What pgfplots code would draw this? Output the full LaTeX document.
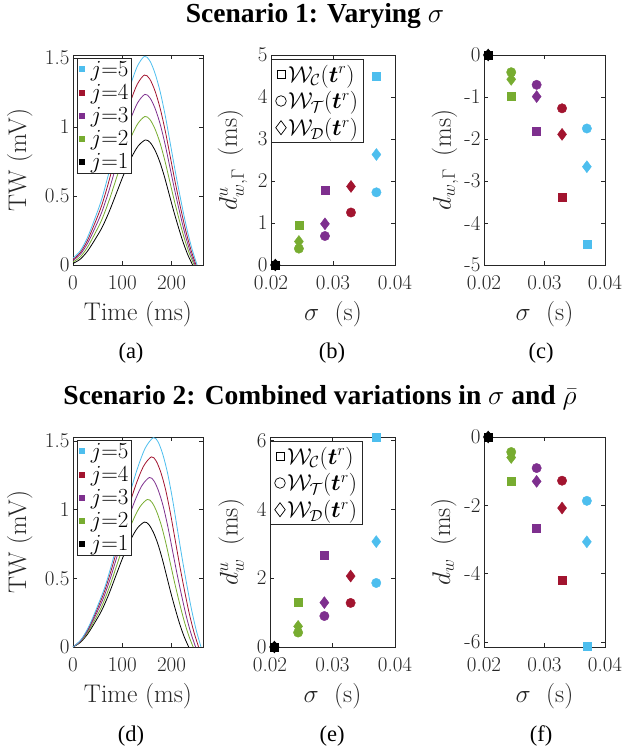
\RequirePackage{fix-cm}
\documentclass[border=0pt]{standalone}
\usepackage{amsmath}
\usepackage{fontspec}
\newfontfamily\timesfont{Liberation Serif}
\usepackage{pgfplots}
\pgfplotsset{compat=1.18}

\definecolor{mcyan}{rgb}{0.301,0.745,0.933}
\definecolor{mred}{rgb}{0.635,0.078,0.184}
\definecolor{mpurple}{rgb}{0.494,0.184,0.556}
\definecolor{mgreen}{rgb}{0.466,0.674,0.188}
\definecolor{axgray}{rgb}{0.15,0.15,0.15}

\pgfplotsset{
  panel/.style={
    scale only axis, width=#1, height=210pt, anchor=south west,
    axis line style={axgray, line width=0.7pt},
    every tick/.style={axgray, line width=0.5pt},
    major tick length=4pt,
    scaled x ticks=false, scaled y ticks=false,
    tick label style={font=\fontsize{21}{24}\selectfont, text=axgray},
    label style={font=\fontsize{25.5}{28}\selectfont, text=axgray},
    xticklabel style={anchor=base, yshift=-25pt},
    xlabel style={at={(axis description cs:0.5,0)}, anchor=base, yshift=-56pt},
    clip=false,
  },
  twpanel/.style={
    panel=130pt, xmin=0, xmax=264, xtick={0,100,200},
    ytick={0,0.5,1,1.5}, yticklabels={0,0.5,1,1.5},
    xlabel={Time (ms)}, ylabel={TW (mV)},
    ylabel style={at={(axis description cs:-0.36,0.5)}, anchor=base},
    legend style={at={(axis description cs:0.028,0.986)}, anchor=north west,
      draw=axgray, fill=white, font=\fontsize{23}{24}\selectfont,
      inner sep=1.5pt, row sep=3.5pt, nodes={inner sep=1.5pt}, cells={anchor=west}},
    legend image code/.code={\fill[##1, draw=none] (1pt,-3pt) rectangle (7pt,3pt); \path[draw=none, fill=none] (0pt,0pt) -- (11pt,0pt);},
  },
  sigpanel/.style={
    xmin=0.02, xmax=0.04, xtick={0.02,0.03,0.04}, xticklabels={0.02,0.03,0.04},
    xlabel={$\sigma$\hspace{0.6em}(s)},
  },
  wlegend/.style={
    legend style={at={(axis description cs:0,0.98)}, anchor=north west,
      draw=axgray, fill=white, font=\fontsize{23}{25}\selectfont,
      inner sep=4.5pt, row sep=6pt, nodes={inner sep=1pt}, cells={anchor=west}},
    legend image code/.code={\draw[##1] plot coordinates {(4pt,0pt)}; \path[draw=none, fill=none] (0pt,0pt) -- (10pt,0pt);},
  },
  tw/.style={#1, line width=0.8pt, smooth, forget plot},
  sc/.style={scatter, only marks, forget plot, scatter src=explicit symbolic,
    scatter/classes={a={black}, b={mgreen}, c={mpurple}, d={mred}, e={mcyan}}},
  sq/.style={sc, mark=square*, mark size=4pt},
  ci/.style={sc, mark=*, mark size=4.7pt},
  di/.style={sc, mark=diamond*, mark size=6pt},
}

\begin{document}
\begin{tikzpicture}
\path[use as bounding box] (0pt,0pt) rectangle (624pt,749pt);

% titles and subcaptions
\node[font=\timesfont\bfseries\fontsize{27.5}{30}\selectfont, anchor=base] at (315pt,726pt) {Scenario 1: Varying $\sigma$};
\node[font=\timesfont\bfseries\fontsize{27.5}{30}\selectfont, anchor=base] at (320pt,344pt) {Scenario 2: Combined variations in $\sigma$ and $\bar{\rho}$};
\foreach \lab/\xx/\yy in {(a)/131/390,(b)/332/390,(c)/541/390,(d)/131/8,(e)/332/8,(f)/541/8}
  \node[font=\timesfont\fontsize{22.5}{26}\selectfont, anchor=base] at (\xx pt,\yy pt) {\lab};

% (a)
\begin{axis}[twpanel, at={(73pt,484pt)}, ymin=0, ymax=1.52]
\addplot[tw=black] coordinates {(0,0.011)(14.7,0.042)(29.4,0.100)(44.1,0.181)(58.8,0.270)(73.5,0.386)(88.2,0.520)(102.9,0.654)(117.6,0.771)(132.3,0.861)(147,0.905)(156.6,0.887)(166.2,0.833)(175.8,0.751)(185.4,0.643)(195,0.516)(204.6,0.389)(214.2,0.272)(223.8,0.163)(233.4,0.072)(243,0)};
\addplot[tw=mgreen] coordinates {(0,0.022)(14.6,0.058)(29.2,0.127)(43.8,0.222)(58.4,0.327)(73,0.464)(87.6,0.622)(102.2,0.780)(116.8,0.917)(131.4,1.022)(146,1.075)(156,1.054)(166,0.989)(176,0.892)(186,0.763)(196,0.613)(206,0.462)(216,0.323)(226,0.194)(236,0.086)(246,0)};
\addplot[tw=mpurple] coordinates {(0,0.033)(14.6,0.076)(29.2,0.154)(43.8,0.262)(58.4,0.382)(73,0.538)(87.6,0.718)(102.2,0.899)(116.8,1.055)(131.4,1.175)(146,1.235)(156.2,1.210)(166.4,1.136)(176.6,1.025)(186.8,0.877)(197,0.704)(207.2,0.531)(217.4,0.371)(227.6,0.222)(237.8,0.099)(248,0)};
\addplot[tw=mred] coordinates {(0,0.041)(14.5,0.088)(29,0.175)(43.5,0.295)(58,0.428)(72.5,0.601)(87,0.802)(101.5,1.002)(116,1.175)(130.5,1.308)(145,1.375)(155.5,1.348)(166,1.265)(176.5,1.141)(187,0.976)(197.5,0.784)(208,0.591)(218.5,0.413)(229,0.248)(239.5,0.110)(250,0)};
\addplot[tw=mcyan] coordinates {(0,0.050)(14.5,0.101)(29,0.196)(43.5,0.327)(58,0.473)(72.5,0.663)(87,0.882)(101.5,1.101)(116,1.291)(130.5,1.437)(145,1.510)(155.7,1.480)(166.4,1.389)(177.1,1.253)(187.8,1.072)(198.5,0.861)(209.2,0.649)(219.9,0.453)(230.6,0.272)(241.3,0.121)(252,0)};
\addlegendimage{mcyan}\addlegendentry{$j{=}5$}
\addlegendimage{mred}\addlegendentry{$j{=}4$}
\addlegendimage{mpurple}\addlegendentry{$j{=}3$}
\addlegendimage{mgreen}\addlegendentry{$j{=}2$}
\addlegendimage{black}\addlegendentry{$j{=}1$}
\end{axis}

% (b)
\begin{axis}[panel=124pt, sigpanel, wlegend, at={(271pt,484pt)}, ymin=0, ymax=5, ytick={0,...,5},
  ylabel={$d^{u}_{w,\Gamma}$\hspace{0.5em}(ms)},
  ylabel style={at={(axis description cs:-0.275,0.5)}, anchor=base}]
\addplot[sq] table[meta=c, row sep=\\] {x y c\\ 0.0207 0 a\\ 0.0245 0.95 b\\ 0.0287 1.79 c\\ 0.0329 3.38 d\\ 0.0370 4.50 e\\};
\addplot[ci] table[meta=c, row sep=\\] {x y c\\ 0.0207 0 a\\ 0.0245 0.39 b\\ 0.0287 0.69 c\\ 0.0329 1.25 d\\ 0.0370 1.73 e\\};
\addplot[di] table[meta=c, row sep=\\] {x y c\\ 0.0207 0 a\\ 0.0245 0.56 b\\ 0.0287 0.98 c\\ 0.0329 1.87 d\\ 0.0370 2.63 e\\};
\addlegendimage{only marks, mark=square, mark size=4pt, line width=0.7pt, black}
\addlegendentry{$\mathcal{W}_{\mathcal{C}}(\boldsymbol{t}^{r})$}
\addlegendimage{only marks, mark=o, mark size=5.3pt, line width=0.7pt, black}
\addlegendentry{$\mathcal{W}_{\mathcal{T}}(\boldsymbol{t}^{r})$}
\addlegendimage{only marks, mark=diamond, mark size=7pt, line width=0.7pt, black}
\addlegendentry{$\mathcal{W}_{\mathcal{D}}(\boldsymbol{t}^{r})$}
\end{axis}

% (c)
\begin{axis}[panel=121pt, sigpanel, at={(484pt,484pt)}, ymin=-5, ymax=0, ytick={-5,...,0},
  yticklabels={-5,-4,-3,-2,-1,0},
  ylabel={$d_{w,\Gamma}$\hspace{0.5em}(ms)},
  ylabel style={at={(axis description cs:-0.273,0.5)}, anchor=base}]
\addplot[sq] table[meta=c, row sep=\\] {x y c\\ 0.0207 0 a\\ 0.0245 -0.97 b\\ 0.0287 -1.81 c\\ 0.0329 -3.39 d\\ 0.0370 -4.50 e\\};
\addplot[ci] table[meta=c, row sep=\\] {x y c\\ 0.0207 0 a\\ 0.0245 -0.41 b\\ 0.0287 -0.71 c\\ 0.0329 -1.27 d\\ 0.0370 -1.75 e\\};
\addplot[di] table[meta=c, row sep=\\] {x y c\\ 0.0207 0 a\\ 0.0245 -0.58 b\\ 0.0287 -0.99 c\\ 0.0329 -1.89 d\\ 0.0370 -2.66 e\\};
\end{axis}

% (d)
\begin{axis}[twpanel, at={(73pt,102pt)}, ymin=0, ymax=1.53]
\addplot[tw=black] coordinates {(0,0)(14.5,0.032)(29,0.091)(43.5,0.173)(58,0.264)(72.5,0.382)(87,0.519)(101.5,0.655)(116,0.774)(130.5,0.865)(145,0.910)(154,0.892)(163,0.837)(172,0.755)(181,0.646)(190,0.519)(199,0.391)(208,0.273)(217,0.164)(226,0.073)(235,0)};
\addplot[tw=mgreen] coordinates {(0,0)(15.1,0.038)(30.2,0.108)(45.3,0.204)(60.4,0.312)(75.5,0.452)(90.6,0.613)(105.7,0.774)(120.8,0.914)(135.9,1.021)(151,1.075)(160.3,1.054)(169.6,0.989)(178.9,0.892)(188.2,0.763)(197.5,0.613)(206.8,0.462)(216.1,0.323)(225.4,0.194)(234.7,0.086)(244,0)};
\addplot[tw=mpurple] coordinates {(0,0)(15.5,0.043)(31,0.124)(46.5,0.235)(62,0.358)(77.5,0.519)(93,0.704)(108.5,0.889)(124,1.050)(139.5,1.173)(155,1.235)(164.4,1.210)(173.8,1.136)(183.2,1.025)(192.6,0.877)(202,0.704)(211.4,0.531)(220.8,0.371)(230.2,0.222)(239.6,0.099)(249,0)};
\addplot[tw=mred] coordinates {(0,0)(15.9,0.049)(31.8,0.139)(47.7,0.263)(63.6,0.402)(79.5,0.582)(95.4,0.790)(111.3,0.997)(127.2,1.177)(143.1,1.316)(159,1.385)(168.6,1.357)(178.2,1.274)(187.8,1.150)(197.4,0.983)(207,0.790)(216.6,0.596)(226.2,0.416)(235.8,0.249)(245.4,0.111)(255,0)};
\addplot[tw=mcyan] coordinates {(0,0)(16.3,0.053)(32.6,0.153)(48.9,0.290)(65.2,0.442)(81.5,0.641)(97.8,0.869)(114.1,1.098)(130.4,1.296)(146.7,1.449)(163,1.525)(172.7,1.495)(182.4,1.403)(192.1,1.266)(201.8,1.083)(211.5,0.869)(221.2,0.656)(230.9,0.458)(240.6,0.275)(250.3,0.122)(260,0)};
\addlegendimage{mcyan}\addlegendentry{$j{=}5$}
\addlegendimage{mred}\addlegendentry{$j{=}4$}
\addlegendimage{mpurple}\addlegendentry{$j{=}3$}
\addlegendimage{mgreen}\addlegendentry{$j{=}2$}
\addlegendimage{black}\addlegendentry{$j{=}1$}
\end{axis}

% (e)
\begin{axis}[panel=125pt, sigpanel, wlegend, at={(270pt,102pt)}, ymin=0, ymax=6.1, ytick={0,2,4,6},
  ylabel={$d^{u}_{w}$\hspace{0.5em}(ms)},
  ylabel style={at={(axis description cs:-0.26,0.5)}, anchor=base}]
\addplot[sq] table[meta=c, row sep=\\] {x y c\\ 0.0207 0 a\\ 0.0245 1.29 b\\ 0.0287 2.67 c\\ 0.0329 4.20 d\\ 0.0370 6.10 e\\};
\addplot[ci] table[meta=c, row sep=\\] {x y c\\ 0.0207 0 a\\ 0.0245 0.42 b\\ 0.0287 0.90 c\\ 0.0329 1.28 d\\ 0.0370 1.86 e\\};
\addplot[di] table[meta=c, row sep=\\] {x y c\\ 0.0207 0 a\\ 0.0245 0.60 b\\ 0.0287 1.29 c\\ 0.0329 2.06 d\\ 0.0370 3.06 e\\};
\addlegendimage{only marks, mark=square, mark size=4pt, line width=0.7pt, black}
\addlegendentry{$\mathcal{W}_{\mathcal{C}}(\boldsymbol{t}^{r})$}
\addlegendimage{only marks, mark=o, mark size=5.3pt, line width=0.7pt, black}
\addlegendentry{$\mathcal{W}_{\mathcal{T}}(\boldsymbol{t}^{r})$}
\addlegendimage{only marks, mark=diamond, mark size=7pt, line width=0.7pt, black}
\addlegendentry{$\mathcal{W}_{\mathcal{D}}(\boldsymbol{t}^{r})$}
\end{axis}

% (f)
\begin{axis}[panel=121pt, sigpanel, at={(484pt,102pt)}, ymin=-6.15, ymax=0, ytick={-6,-4,-2,0},
  yticklabels={-6,-4,-2,0},
  ylabel={$d_{w}$\hspace{0.5em}(ms)},
  ylabel style={at={(axis description cs:-0.28,0.5)}, anchor=base}]
\addplot[sq] table[meta=c, row sep=\\] {x y c\\ 0.0207 0 a\\ 0.0245 -1.30 b\\ 0.0287 -2.67 c\\ 0.0329 -4.20 d\\ 0.0370 -6.12 e\\};
\addplot[ci] table[meta=c, row sep=\\] {x y c\\ 0.0207 0 a\\ 0.0245 -0.44 b\\ 0.0287 -0.91 c\\ 0.0329 -1.28 d\\ 0.0370 -1.87 e\\};
\addplot[di] table[meta=c, row sep=\\] {x y c\\ 0.0207 0 a\\ 0.0245 -0.60 b\\ 0.0287 -1.30 c\\ 0.0329 -2.08 d\\ 0.0370 -3.07 e\\};
\end{axis}
\end{tikzpicture}
\end{document}
